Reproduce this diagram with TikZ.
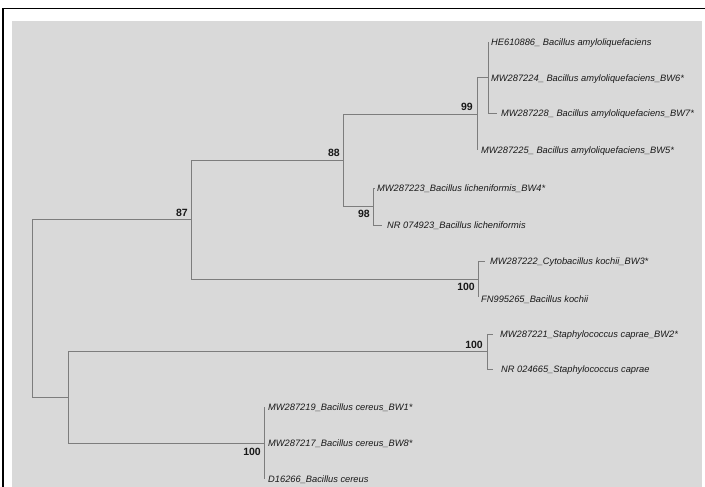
\documentclass[tikz,border=0pt]{standalone}
\usepackage{fontspec}
\setmainfont{Liberation Sans}
\definecolor{bggrey}{RGB}{217,217,217}
\definecolor{branchgrey}{RGB}{125,125,125}
\definecolor{txt}{RGB}{25,25,25}
\tikzset{
  branch/.style={draw=branchgrey, line width=0.9pt},
  leaf/.style={anchor=base west, inner sep=0pt, text=txt, font=\itshape\fontsize{9.3}{11}\selectfont},
  boot/.style={anchor=east, inner sep=0pt, text=txt, font=\bfseries\fontsize{10.5}{12}\selectfont},
}
\begin{document}
\begin{tikzpicture}[x=1pt,y=-1pt]
\useasboundingbox (0,0) rectangle (705,487);
\fill[white] (0,0) rectangle (705,487);
\fill[bggrey] (12,21) rectangle (702,487);
\draw[black, line width=1.6pt] (3,487) -- (3,8.5) -- (705,8.5);

% internal nodes
\coordinate (root) at (32,308.25);
\coordinate (n87) at (191,219.5);
\coordinate (n88) at (343,160);
\coordinate (n99) at (477,114);
\coordinate (nsub) at (488,77.5);
\coordinate (n98) at (373,206.5);
\coordinate (ncyto) at (478,279);
\coordinate (nlow) at (68,397.5);
\coordinate (nstaph) at (487,351.5);
\coordinate (ncer) at (264,443);

% leaf tips
\coordinate (t1) at (488,42);
\coordinate (t2) at (488,77.5);
\coordinate (t3) at (497,113);
\coordinate (t4) at (477,150);
\coordinate (t5) at (375,188);
\coordinate (t6) at (382,225);
\coordinate (t7) at (485,261);
\coordinate (t8) at (478,297);
\coordinate (t9) at (493,334);
\coordinate (t10) at (493,369);
\coordinate (t11) at (264,407);
\coordinate (t12) at (264,443);
\coordinate (t13) at (264,479);

% branches
\draw[branch] (root) |- (n87);
\draw[branch] (root) |- (nlow);
\draw[branch] (n87) |- (n88);
\draw[branch] (n87) |- (ncyto);
\draw[branch] (n88) |- (n99);
\draw[branch] (n88) |- (n98);
\draw[branch] (n99) |- (nsub);
\draw[branch] (n99) |- (t4);
\draw[branch] (nsub) |- (t1);
\draw[branch] (nsub) |- (t2);
\draw[branch] (nsub) |- (t3);
\draw[branch] (n98) |- (t5);
\draw[branch] (n98) |- (t6);
\draw[branch] (ncyto) |- (t7);
\draw[branch] (ncyto) |- (t8);
\draw[branch] (nlow) |- (nstaph);
\draw[branch] (nlow) |- (ncer);
\draw[branch] (nstaph) |- (t9);
\draw[branch] (nstaph) |- (t10);
\draw[branch] (ncer) |- (t11);
\draw[branch] (ncer) |- (t12);
\draw[branch] (ncer) |- (t13);

% leaf labels
\node[leaf] (l1) at (491,45.4) {HE610886\_ Bacillus amyloliquefaciens};
\node[leaf] (l2) at (491,81.6) {MW287224\_ Bacillus amyloliquefaciens\_BW6*};
\node[leaf] (l3) at (501,116.4) {MW287228\_ Bacillus amyloliquefaciens\_BW7*};
\node[leaf] (l4) at (481,153.4) {MW287225\_ Bacillus amyloliquefaciens\_BW5*};
\node[leaf] (l5) at (377,191.4) {MW287223\_Bacillus licheniformis\_BW4*};
\node[leaf] (l6) at (387,228.4) {NR 074923\_Bacillus licheniformis};
\node[leaf] (l7) at (490,264.4) {MW287222\_Cytobacillus kochii\_BW3*};
\node[leaf] (l8) at (481,302.4) {FN995265\_Bacillus kochii};
\node[leaf] (l9) at (500,337.4) {MW287221\_Staphylococcus caprae\_BW2*};
\node[leaf] (l10) at (501,372.4) {NR 024665\_Staphylococcus caprae};
\node[leaf] (l11) at (268,410.4) {MW287219\_Bacillus cereus\_BW1*};
\node[leaf] (l12) at (268,446.4) {MW287217\_Bacillus cereus\_BW8*};
\node[leaf] (l13) at (268,482.4) {D16266\_Bacillus cereus};

% bootstrap values
\node[boot] (b87) at (188,213) {87};
\node[boot] (b88) at (340,153) {88};
\node[boot] (b99) at (473,107) {99};
\node[boot] (b98) at (370,214) {98};
\node[boot] (bcyto) at (475,287) {100};
\node[boot] (bstaph) at (483,345) {100};
\node[boot] (bcer) at (261,452) {100};
\end{tikzpicture}
\end{document}
